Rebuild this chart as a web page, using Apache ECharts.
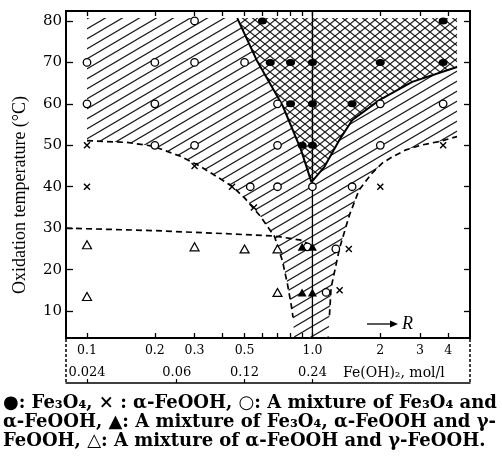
<!DOCTYPE html>
<html>
<head>
<meta charset="utf-8">
<script src="https://cdn.jsdelivr.net/npm/echarts@6/dist/echarts.min.js"></script>
<style>
  html, body { margin: 0; background: #fff; }
  #chart { width: 502px; height: 461px; }
</style>
</head>
<body>
<div id="chart"></div>
<script>
// axis ranges (R is plotted on a log scale)
const rMin = 0.0807, rMax = 5.0;
const tMin = 3.5, tMax = 82.4;

const rTicks = [0.1, 0.2, 0.3, 0.4, 0.5, 0.6, 0.7, 0.8, 0.9, 1.0, 2, 3, 4];
const rLabelValues = [0.1, 0.2, 0.3, 0.5, 1.0, 2, 3, 4];
const rLabels = ['0.1', '0.2', '0.3', '0.5', '1.0', '2', '3', '4'];
const feValues = [0.1, 0.25, 0.5, 1.0];
const feLabels = ['0.024', '0.06', '0.12', '0.24'];
const tTicks = [10, 20, 30, 40, 50, 60, 70, 80];

// ● Fe3O4
const fe3o4R = [0.6, 0.65, 0.8, 1.0, 0.8, 1.0, 1.5, 2, 3.8, 3.8, 0.9, 1.0];
const fe3o4T = [80, 70, 70, 70, 60, 60, 60, 70, 70, 80, 50, 50];
// × alpha-FeOOH
const alphaR = [0.1, 0.1, 0.3, 0.44, 0.55, 2, 3.8, 1.45, 1.32];
const alphaT = [50, 40, 45, 40, 35, 40, 50, 25, 15];
// ○ Fe3O4 + alpha-FeOOH
const mixR = [0.1, 0.1, 0.2, 0.2, 0.2, 0.3, 0.3, 0.3, 0.5, 0.7, 0.7, 0.53, 0.7, 1.0, 1.5, 2, 2, 3.8, 0.95, 1.27, 1.15];
const mixT = [70, 60, 70, 60, 50, 80, 70, 50, 70, 60, 50, 40, 40, 40, 40, 50, 60, 60, 25.5, 25, 14.5];
// ▲ Fe3O4 + alpha + gamma
const triR = [0.9, 1.0, 0.9, 1.0];
const triT = [25.5, 25.5, 14.5, 14.5];
// △ alpha + gamma
const agR = [0.1, 0.1, 0.3, 0.5, 0.7, 0.7];
const agT = [26, 13.5, 25.5, 25, 25, 14.5];

// region boundaries [R, T]
const hatchTop = 80.7, hatchRight = 4.38;
const leftDashed = [[0.1, 51.1], [0.15, 50.7], [0.196, 49.8], [0.258, 47.4], [0.316, 45], [0.375, 42.5],
  [0.443, 40], [0.5, 37.3], [0.585, 33], [0.679, 28], [0.737, 22], [0.775, 16.5], [0.805, 11.5], [0.82, 8.5]];
const rightDashed = [[1.19, 9], [1.21, 15.6], [1.32, 25.2], [1.46, 33.2], [1.61, 39.2], [1.84, 43.3],
  [2.04, 45.7], [2.26, 47.2], [2.6, 48.9], [3.07, 50.1], [3.65, 50.9], [4.38, 52.1]];
const lowDashed = [[0.0807, 30], [0.2, 29.4], [0.4, 28.7], [0.68, 28.1], [0.89, 27.1], [0.97, 26]];
const crossLeft = [[0.464, 80.7], [0.57, 70.2], [0.737, 59.6], [0.89, 48.9], [0.99, 41.1]];
const crossRight = [[0.99, 41.1], [1.13, 44.8], [1.317, 51.3], [1.503, 56.1], [1.98, 60.9], [2.77, 65.3], [4.38, 68.9]];

const lg = v => Math.log10(v);
const toXY = (rs, ts) => rs.map((r, i) => [lg(r), ts[i]]);
const toPts = arr => arr.map(p => [lg(p[0]), p[1]]);

function makePattern(w, h, both) {
  const c = document.createElement('canvas');
  c.width = w; c.height = h;
  const ctx = c.getContext('2d');
  ctx.strokeStyle = '#1c1c1c';
  ctx.lineWidth = 1.2;
  for (let k = -1; k <= 1; k++) {
    ctx.beginPath();
    ctx.moveTo(-w, 2 * h + k * h);
    ctx.lineTo(2 * w, -h + k * h);
    ctx.stroke();
    if (both) {
      ctx.beginPath();
      ctx.moveTo(-w, -h + k * h);
      ctx.lineTo(2 * w, 2 * h + k * h);
      ctx.stroke();
    }
  }
  return { image: c, repeat: 'repeat' };
}

const hatchPoly = [[0.1, hatchTop]]
  .concat(crossLeft)
  .concat(crossRight.slice(1))
  .concat(rightDashed.slice().reverse())
  .concat([[1.18, tMin], [0.83, tMin]])
  .concat(leftDashed.slice().reverse());
const crossPoly = crossLeft.concat(crossRight.slice(1)).concat([[hatchRight, hatchTop]]);

function regionSeries(pts, fill) {
  return {
    type: 'custom',
    silent: true,
    z: 1,
    data: [[0, 40]],
    renderItem: function (params, api) {
      return {
        type: 'polygon',
        shape: { points: pts.map(p => api.coord([lg(p[0]), p[1]])) },
        style: { fill: fill, stroke: 'none' }
      };
    }
  };
}

function lineSeries(pts, type, width) {
  return {
    type: 'line',
    data: toPts(pts),
    symbol: 'none',
    silent: true,
    z: 3,
    lineStyle: { color: '#000', width: width, type: type }
  };
}

const serif = 'DejaVu Serif';
const labelFor = (vals, labels) => v => {
  const r = Math.pow(10, v);
  let best = 0;
  vals.forEach((x, i) => { if (Math.abs(x - r) < Math.abs(vals[best] - r)) best = i; });
  return labels[best];
};

const xBase = {
  type: 'value',
  min: lg(rMin),
  max: lg(rMax),
  axisLine: { show: false, onZero: false },
  splitLine: { show: false }
};
const yBase = {
  type: 'value',
  min: tMin,
  max: tMax,
  axisLine: { show: false, onZero: false },
  splitLine: { show: false }
};

const chart = echarts.init(document.getElementById('chart'));
chart.setOption({
  animation: false,
  backgroundColor: '#fff',
  grid: { left: 66, right: 32, top: 11, bottom: 123, show: true, borderColor: '#000', borderWidth: 2 },
  xAxis: [
    Object.assign({}, xBase, {
      position: 'bottom',
      axisTick: { inside: true, length: 5, lineStyle: { color: '#000', width: 1.3 }, customValues: rTicks.map(lg) },
      axisLabel: {
        customValues: rLabelValues.map(lg), formatter: labelFor(rLabelValues, rLabels),
        fontFamily: serif, fontSize: 12.5, color: '#000', margin: 6
      }
    }),
    Object.assign({}, xBase, {
      position: 'top',
      axisTick: { inside: true, length: 5, lineStyle: { color: '#000', width: 1.3 }, customValues: rTicks.map(lg) },
      axisLabel: { show: false }
    }),
    Object.assign({}, xBase, {
      position: 'bottom',
      offset: 45,
      axisLine: { show: true, onZero: false, lineStyle: { color: '#000', width: 1.5 } },
      axisTick: { inside: true, length: 4, lineStyle: { color: '#000', width: 1.2 }, customValues: feValues.map(lg) },
      axisLabel: {
        inside: true, margin: 4,
        customValues: feValues.map(lg), formatter: labelFor(feValues, feLabels),
        fontFamily: serif, fontSize: 13, color: '#000'
      }
    })
  ],
  yAxis: [
    Object.assign({}, yBase, {
      position: 'left',
      axisTick: { inside: true, length: 7, lineStyle: { color: '#000', width: 1.3 }, customValues: tTicks },
      axisLabel: { customValues: tTicks, fontFamily: serif, fontSize: 15, color: '#000', margin: 4 }
    }),
    Object.assign({}, yBase, {
      position: 'right',
      axisTick: { inside: true, length: 6, lineStyle: { color: '#000', width: 1.3 }, customValues: tTicks },
      axisLabel: { show: false }
    })
  ],
  series: [
    regionSeries(hatchPoly, makePattern(17, 10, false)),
    regionSeries(crossPoly, makePattern(10, 8, true)),
    lineSeries(leftDashed, [6, 4], 1.7),
    lineSeries(rightDashed, [6, 4], 1.7),
    lineSeries(lowDashed, [6, 4], 1.7),
    lineSeries(crossLeft, 'solid', 2),
    lineSeries(crossRight, 'solid', 2),
    lineSeries([[1.0, tMin], [1.0, tMax]], 'solid', 1.3),
    {
      type: 'scatter', z: 5, silent: true, data: toXY(mixR, mixT),
      symbol: 'circle', symbolSize: 7.5,
      itemStyle: { color: '#fff', borderColor: '#000', borderWidth: 1.3, opacity: 1 }
    },
    {
      type: 'scatter', z: 5, silent: true, data: toXY(fe3o4R, fe3o4T),
      symbol: 'circle', symbolSize: [9, 7],
      itemStyle: { color: '#000', opacity: 1 }
    },
    {
      type: 'scatter', z: 5, silent: true, data: toXY(alphaR, alphaT),
      symbol: 'path://M0,0L10,10M10,0L0,10', symbolSize: 6,
      itemStyle: { color: 'rgba(0,0,0,0)', borderColor: '#000', borderWidth: 1.4, opacity: 1 }
    },
    {
      type: 'scatter', z: 5, silent: true, data: toXY(triR, triT),
      symbol: 'triangle', symbolSize: [9, 8],
      itemStyle: { color: '#000', opacity: 1 }
    },
    {
      type: 'scatter', z: 5, silent: true, data: toXY(agR, agT),
      symbol: 'triangle', symbolSize: [9, 8],
      itemStyle: { color: '#fff', borderColor: '#000', borderWidth: 1.2, opacity: 1 }
    }
  ],
  graphic: [
    {
      type: 'text', x: 20, y: 195, rotation: Math.PI / 2,
      style: { text: 'Oxidation temperature (°C)', font: '18px "Liberation Serif"', fill: '#000', align: 'center', verticalAlign: 'middle' }
    },
    { type: 'line', shape: { x1: 66, y1: 339, x2: 66, y2: 383 }, style: { stroke: '#000', lineWidth: 1.5, lineDash: [3, 2] } },
    { type: 'line', shape: { x1: 470, y1: 339, x2: 470, y2: 383 }, style: { stroke: '#000', lineWidth: 1.5, lineDash: [3, 2] } },
    {
      type: 'text', x: 343, y: 373,
      style: { text: 'Fe(OH)₂, mol/l', font: '14px "DejaVu Serif"', fill: '#000', align: 'left', verticalAlign: 'middle' }
    },
    { type: 'line', shape: { x1: 367, y1: 324, x2: 392, y2: 324 }, style: { stroke: '#000', lineWidth: 1.3 } },
    { type: 'polygon', shape: { points: [[398, 324], [390, 320.5], [390, 327.5]] }, style: { fill: '#000' } },
    {
      type: 'text', x: 402, y: 324,
      style: { text: 'R', font: 'italic 18px "Liberation Serif"', fill: '#000', align: 'left', verticalAlign: 'middle' }
    },
    {
      type: 'text', x: 3, y: 403,
      style: { text: '●: Fe₃O₄, × : α-FeOOH, ○: A mixture of Fe₃O₄ and', font: 'bold 18px "DejaVu Serif"', fill: '#000', verticalAlign: 'middle' }
    },
    {
      type: 'text', x: 3, y: 422,
      style: { text: 'α-FeOOH, ▲: A mixture of Fe₃O₄, α-FeOOH and γ-', font: 'bold 18px "DejaVu Serif"', fill: '#000', verticalAlign: 'middle' }
    },
    {
      type: 'text', x: 3, y: 441,
      style: { text: 'FeOOH, △: A mixture of α-FeOOH and γ-FeOOH.', font: 'bold 18px "DejaVu Serif"', fill: '#000', verticalAlign: 'middle' }
    }
  ]
});
</script>
</body>
</html>
